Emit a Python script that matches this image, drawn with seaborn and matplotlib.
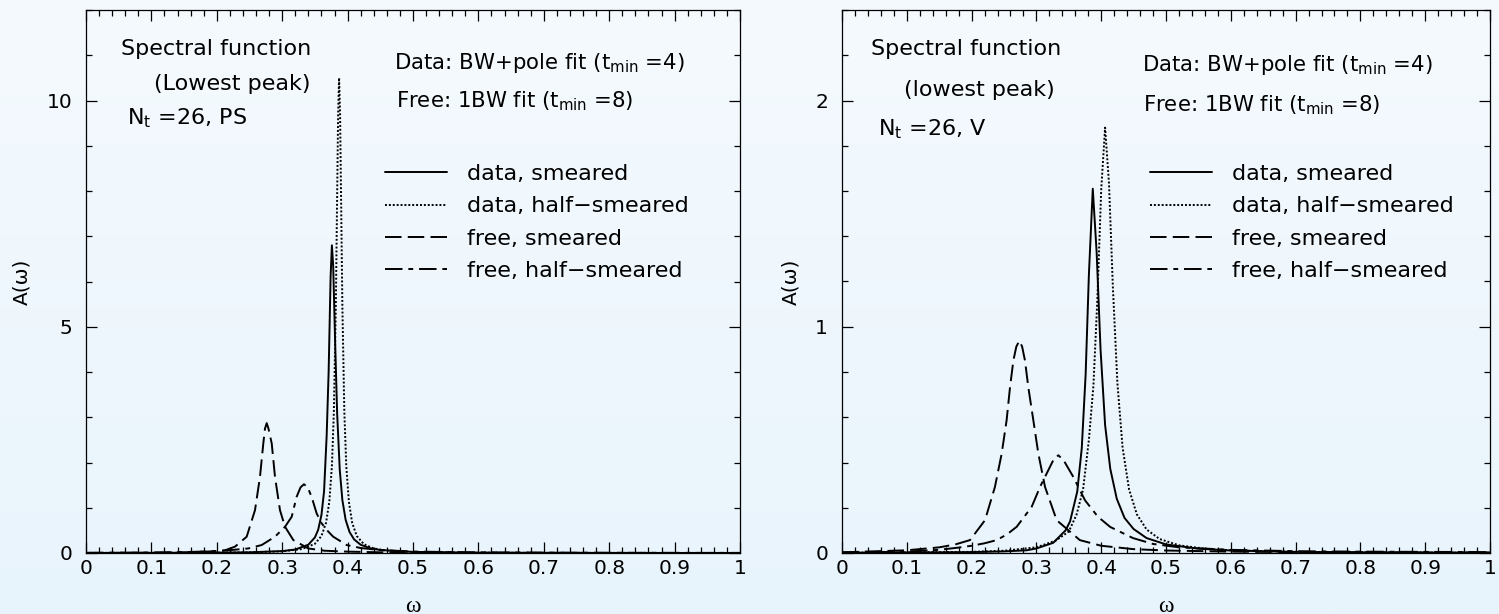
import numpy as np
import pandas as pd
import matplotlib
matplotlib.use("Agg")
import matplotlib.pyplot as plt
import seaborn as sns
from matplotlib.ticker import MultipleLocator
from matplotlib.lines import Line2D

# ---------------- data ----------------
labels = ["data, smeared", "data, half\u2212smeared", "free, smeared", "free, half\u2212smeared"]

# Left panel: PS channel
ps_data_sm_w = [0, 0.1, 0.2, 0.25, 0.3, 0.32, 0.34, 0.35, 0.355, 0.36, 0.364, 0.368, 0.371, 0.374, 0.376,
                0.378, 0.381, 0.384, 0.388, 0.392, 0.397, 0.403, 0.41, 0.42, 0.435, 0.45, 0.5, 0.6, 0.7, 0.8, 0.9, 1.0]
ps_data_sm_A = [0.002, 0.003, 0.008, 0.015, 0.042, 0.077, 0.184, 0.344, 0.513, 0.84, 1.36, 2.6, 4.0, 6.1, 6.8,
                6.33, 4.63, 3.09, 1.84, 1.17, 0.733, 0.463, 0.30, 0.182, 0.103, 0.066, 0.024, 0.007, 0.004, 0.002, 0.001, 0.001]

ps_data_half_w = [0, 0.1, 0.2, 0.25, 0.3, 0.33, 0.35, 0.36, 0.367, 0.372, 0.376, 0.379, 0.382, 0.384, 0.3855, 0.387,
                  0.3885, 0.39, 0.392, 0.395, 0.398, 0.402, 0.407, 0.414, 0.425, 0.44, 0.46, 0.5, 0.6, 0.7, 0.8, 0.9, 1.0]
ps_data_half_A = [0.002, 0.003, 0.008, 0.015, 0.037, 0.087, 0.203, 0.376, 0.665, 1.127, 1.918, 3.12, 5.46, 7.88, 9.69, 10.5,
                  9.69, 7.88, 5.46, 3.12, 1.918, 1.127, 0.665, 0.376, 0.193, 0.100, 0.053, 0.022, 0.006, 0.003, 0.002, 0.001, 0.001]

ps_free_sm_w = [0, 0.1, 0.15, 0.19, 0.2125, 0.2278, 0.2457, 0.2584, 0.266, 0.2711, 0.2737, 0.2763, 0.279, 0.284,
                0.289, 0.2966, 0.3043, 0.317, 0.34, 0.365, 0.4, 0.45, 0.5, 0.6, 0.7, 0.8, 0.9, 1.0]
ps_free_sm_A = [0.002, 0.006, 0.015, 0.035, 0.06, 0.14, 0.36, 0.947, 1.68, 2.42, 2.75, 2.87, 2.75, 2.42,
                1.68, 0.947, 0.58, 0.286, 0.10, 0.05, 0.03, 0.016, 0.01, 0.005, 0.003, 0.002, 0.0015, 0.001]

ps_free_half_w = [0, 0.1, 0.15, 0.2, 0.2228, 0.248, 0.2686, 0.289, 0.3043, 0.3145, 0.322, 0.328, 0.3333, 0.339,
                  0.345, 0.3527, 0.3604, 0.37, 0.378, 0.3986, 0.42, 0.45, 0.5, 0.6, 0.7, 0.8, 0.9, 1.0]
ps_free_half_A = [0.003, 0.01, 0.02, 0.04, 0.066, 0.10, 0.176, 0.36, 0.58, 0.80, 1.24, 1.45, 1.52, 1.45,
                  1.24, 0.874, 0.654, 0.48, 0.36, 0.176, 0.11, 0.065, 0.032, 0.013, 0.007, 0.004, 0.003, 0.002]

# Right panel: V channel
v_data_sm_w = [0, 0.1, 0.15, 0.2, 0.25, 0.285, 0.3, 0.326, 0.345, 0.352, 0.363, 0.37, 0.376, 0.381, 0.387,
               0.393, 0.399, 0.406, 0.414, 0.424, 0.436, 0.45, 0.47, 0.5, 0.55, 0.6, 0.7, 0.8, 0.9, 1.0]
v_data_sm_A = [0.001, 0.002, 0.003, 0.004, 0.007, 0.012, 0.02, 0.045, 0.10, 0.14, 0.271, 0.463, 0.79, 1.23, 1.61,
               1.327, 0.899, 0.566, 0.372, 0.24, 0.155, 0.106, 0.066, 0.038, 0.019, 0.011, 0.005, 0.003, 0.002, 0.0014]

v_data_half_w = [0, 0.1, 0.15, 0.2, 0.25, 0.3, 0.33, 0.35, 0.362, 0.372, 0.381, 0.388, 0.394, 0.4, 0.406,
                 0.412, 0.418, 0.425, 0.433, 0.443, 0.455, 0.47, 0.49, 0.52, 0.56, 0.6, 0.7, 0.8, 0.9, 1.0]
v_data_half_A = [0.002, 0.003, 0.004, 0.005, 0.01, 0.025, 0.055, 0.095, 0.17, 0.28, 0.50, 0.74, 1.116, 1.605, 1.88,
                 1.635, 1.176, 0.751, 0.466, 0.281, 0.171, 0.104, 0.062, 0.034, 0.019, 0.012, 0.005, 0.003, 0.002, 0.0013]

v_free_sm_w = [0, 0.1, 0.15, 0.175, 0.1975, 0.2207, 0.236, 0.2464, 0.254, 0.2593, 0.2644, 0.269, 0.2737, 0.278,
               0.2824, 0.2875, 0.2953, 0.303, 0.3133, 0.3313, 0.367, 0.4, 0.45, 0.5, 0.6, 0.7, 0.8, 0.9, 1.0]
v_free_sm_A = [0.003, 0.012, 0.025, 0.038, 0.057, 0.145, 0.292, 0.439, 0.586, 0.733, 0.85, 0.912, 0.938, 0.912,
               0.85, 0.733, 0.586, 0.439, 0.292, 0.145, 0.057, 0.032, 0.017, 0.011, 0.006, 0.004, 0.003, 0.002, 0.002]

v_free_half_w = [0, 0.1, 0.15, 0.18, 0.2, 0.22, 0.2387, 0.255, 0.2696, 0.2927, 0.3056, 0.3184, 0.326, 0.3338,
                 0.342, 0.357, 0.375, 0.395, 0.414, 0.449, 0.48, 0.52, 0.6, 0.7, 0.8, 0.9, 1.0]
v_free_half_A = [0.002, 0.006, 0.014, 0.024, 0.032, 0.043, 0.057, 0.083, 0.116, 0.204, 0.292, 0.366, 0.41, 0.432,
                 0.41, 0.336, 0.233, 0.16, 0.115, 0.066, 0.04, 0.025, 0.014, 0.008, 0.006, 0.005, 0.004]

x_ticks = [0, 0.1, 0.2, 0.3, 0.4, 0.5, 0.6, 0.7, 0.8, 0.9, 1]
x_ticklabels = ["0", "0.1", "0.2", "0.3", "0.4", "0.5", "0.6", "0.7", "0.8", "0.9", "1"]


def long_df(pairs):
    frames = []
    for lab, (w, a) in zip(labels, pairs):
        frames.append(pd.DataFrame({"omega": w, "A": a, "curve": lab}))
    return pd.concat(frames, ignore_index=True)


df_ps = long_df([(ps_data_sm_w, ps_data_sm_A), (ps_data_half_w, ps_data_half_A),
                 (ps_free_sm_w, ps_free_sm_A), (ps_free_half_w, ps_free_half_A)])
df_v = long_df([(v_data_sm_w, v_data_sm_A), (v_data_half_w, v_data_half_A),
                (v_free_sm_w, v_free_sm_A), (v_free_half_w, v_free_half_A)])

# ---------------- style ----------------
sns.set_theme(style="ticks")
plt.rcParams["font.family"] = ["DejaVu Sans"]
plt.rcParams["mathtext.fontset"] = "dejavusans"
plt.rcParams["axes.unicode_minus"] = True
for key in ["text.color", "axes.labelcolor", "xtick.color", "ytick.color", "axes.edgecolor"]:
    plt.rcParams[key] = "black"

LW = 1.4
dash_map = {labels[0]: "", labels[1]: (1, 1), labels[2]: (8.5, 3.2), labels[3]: (9, 3, 2.5, 3)}

fig = plt.figure(figsize=(14.99, 6.14), dpi=100)

# light blue gradient background
bg = fig.add_axes([0, 0, 1, 1], zorder=-5)
top = np.array([245, 250, 254]) / 255
bot = np.array([232, 244, 252]) / 255
t = np.linspace(0, 1, 256)[:, None, None]
grad = top * (1 - t) + bot * t
bg.imshow(grad, aspect="auto", extent=[0, 1, 0, 1])
bg.axis("off")

W, H = 1499.0, 614.0
FS = 16
panels = [
    dict(df=df_ps, rect=[86 / W, 61 / H, 654 / W, 543 / H], ylim=12, ymin=1,
         yticks=[0, 5, 10],
         texts=[("Spectral function", 0.344, 0.928, "right", FS),
                ("(Lowest peak)", 0.344, 0.864, "right", FS),
                ("N$_{\\rm t}$ =26, PS", 0.063, 0.800, "left", FS),
                ("Data: BW+pole fit (t$_{\\rm min}$ =4)", 0.471, 0.902, "left", 15.3),
                ("Free: 1BW fit (t$_{\\rm min}$ =8)", 0.474, 0.832, "left", 15.3)],
         leg_x=0.457, ylab_x=-0.084),
    dict(df=df_v, rect=[842 / W, 61 / H, 648 / W, 543 / H], ylim=2.4, ymin=0.2,
         yticks=[0, 1, 2],
         texts=[("Spectral function", 0.045, 0.928, "left", FS),
                ("(lowest peak)", 0.096, 0.853, "left", FS),
                ("N$_{\\rm t}$ =26, V", 0.056, 0.781, "left", FS),
                ("Data: BW+pole fit (t$_{\\rm min}$ =4)", 0.463, 0.899, "left", 15.3),
                ("Free: 1BW fit (t$_{\\rm min}$ =8)", 0.465, 0.825, "left", 15.3)],
         leg_x=0.475, ylab_x=-0.065),
]

for p in panels:
    ax = fig.add_axes(p["rect"])
    ax.set_facecolor("none")
    sns.lineplot(data=p["df"], x="omega", y="A", style="curve", style_order=labels,
                 dashes=dash_map, color="black", linewidth=LW, estimator=None,
                 sort=False, legend=False, ax=ax)
    ax.set_xlim(0, 1)
    ax.set_ylim(0, p["ylim"])
    ax.set_xticks(x_ticks)
    ax.set_xticklabels(x_ticklabels)
    ax.set_yticks(p["yticks"])
    ax.set_yticklabels([str(v) for v in p["yticks"]])
    ax.xaxis.set_minor_locator(MultipleLocator(0.02))
    ax.yaxis.set_minor_locator(MultipleLocator(p["ymin"]))
    ax.tick_params(which="both", direction="in", top=True, right=True, color="black", width=0.9)
    ax.tick_params(which="major", length=8, labelsize=14.5, labelcolor="black")
    ax.tick_params(axis="x", which="major", pad=4)
    ax.tick_params(axis="y", which="major", pad=10)
    ax.tick_params(which="minor", length=4)
    for s in ax.spines.values():
        s.set_color("black")
        s.set_linewidth(0.9)

    ax.set_xlabel("\u03c9", family="Liberation Serif", fontsize=17, color="black")
    ax.xaxis.set_label_coords(0.5, -0.098)
    ax.xaxis.label.set_va("center")
    ax.set_ylabel("A(\u03c9)", fontsize=14.5, color="black")
    ax.yaxis.set_label_coords(p["ylab_x"], 0.5)

    for txt, x, y, ha, fs in p["texts"]:
        ax.text(x, y, txt, transform=ax.transAxes, ha=ha, va="center", fontsize=fs, color="black")

    handles = [Line2D([], [], color="black", linewidth=LW, linestyle="-")]
    for lab in labels[1:]:
        handles.append(Line2D([], [], color="black", linewidth=LW, dashes=dash_map[lab]))
    leg = ax.legend(handles, labels, loc="upper left", bbox_to_anchor=(p["leg_x"], 0.716),
                    frameon=False, fontsize=FS, handlelength=2.8, handletextpad=0.9,
                    labelspacing=0.55, borderpad=0, borderaxespad=0)
    for txt in leg.get_texts():
        txt.set_color("black")

fig.savefig("out.png", dpi=100)
